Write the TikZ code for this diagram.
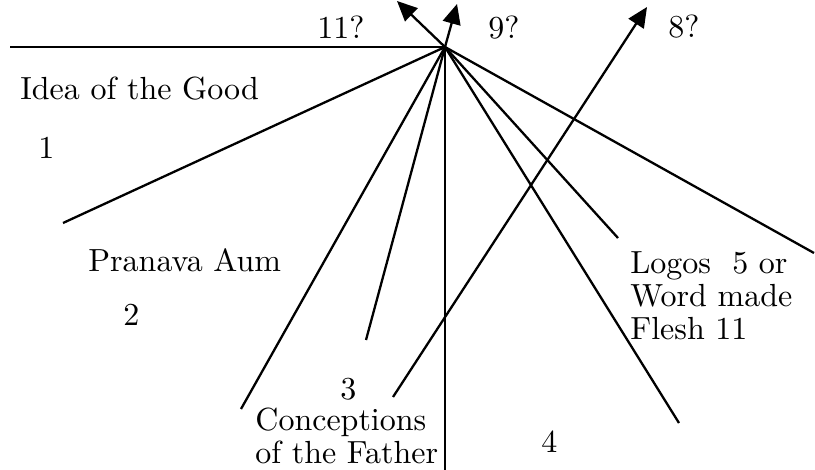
\documentclass[tikz,border=0pt]{standalone}
\usepackage{amsmath,amssymb}
\usepackage{fontspec}
\setmainfont{lmroman10-regular.otf}
\usepackage{tikz}
\usetikzlibrary{arrows.meta}

\begin{document}
\begin{tikzpicture}[x=0.5pt, y=-0.5pt,
    ray/.style={line width=1.15pt},
    arr/.style={ray, -{Triangle[length=10pt,width=9pt]}},
    lbl/.style={anchor=base west, inner sep=0pt, font=\fontsize{16}{16.5}\selectfont},
    blk/.style={lbl, align=left}]
    \useasboundingbox (0,0) rectangle (815,470);

    \coordinate (hub) at (445,47);
    \coordinate (west) at (10,47);
    \coordinate (e1) at (63,223);
    \coordinate (e2) at (241,409);
    \coordinate (e3) at (366,340);
    \coordinate (south) at (445,470);
    \coordinate (e5) at (618,238);
    \coordinate (e6) at (814,253);
    \coordinate (e7) at (679,423);
    \coordinate (a11) at (397,1);
    \coordinate (a9) at (457,4);
    \coordinate (s8) at (393,397);
    \coordinate (a8) at (647,7);

    \draw[ray] (west) -- (hub);
    \draw[ray] (hub) -- (e1);
    \draw[ray] (hub) -- (e2);
    \draw[ray] (hub) -- (e3);
    \draw[ray] (hub) -- (south);
    \draw[ray] (hub) -- (e5);
    \draw[ray] (hub) -- (e6);
    \draw[ray] (hub) -- (e7);

    \draw[arr] (hub) -- (a11);
    \draw[arr] (hub) -- (a9);
    \draw[arr] (s8) -- (a8);

    \node[lbl] (q11) at (317,39) {11?};
    \node[lbl] (q9) at (488,39) {9?};
    \node[lbl] (q8) at (668,38) {8?};

    \node[lbl] (good) at (20,100) {Idea of the Good};
    \node[lbl] (one) at (38,159) {1};
    \node[lbl] (pranava) at (88,272) {Pranava Aum};
    \node[lbl] (two) at (123,326) {2};
    \node[lbl] (three) at (340,400) {3};
    \node[blk] (father) at (255,464) {Conceptions\\of the Father};
    \node[lbl] (four) at (541,453) {4};
    \node[blk] (logos) at (630,340) {Logos\ \ 5 or\\Word made\\Flesh 11};
\end{tikzpicture}
\end{document}
